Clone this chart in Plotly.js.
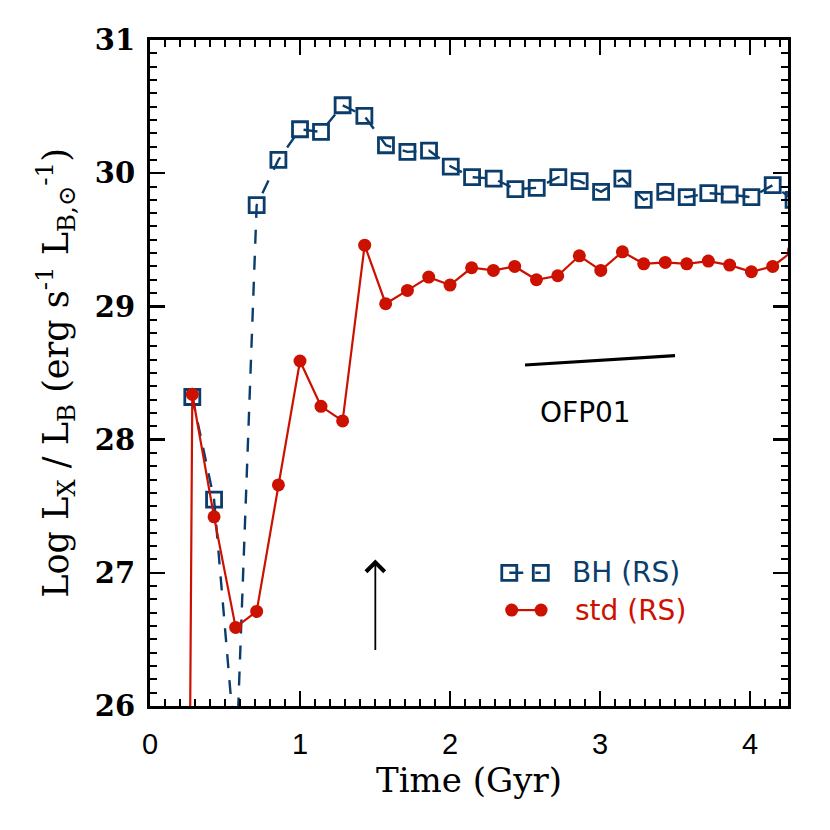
<!DOCTYPE html>
<html>
<head>
<meta charset="utf-8">
<script src="https://cdn.plot.ly/plotly-3.0.1.min.js"></script>
<style>
  html, body { margin: 0; padding: 0; background: #fff; }
  #chart { width: 830px; height: 830px; }
</style>
</head>
<body>
<div id="chart"></div>
<script>
// Values (time in Gyr, log Lx/LB)
const bhTime = [0.282, 0.427, 0.575, 0.711, 0.856, 1.0, 1.14, 1.284, 1.429, 1.573,
                1.716, 1.86, 2.005, 2.147, 2.291, 2.436, 2.578, 2.722, 2.864, 3.007,
                3.149, 3.291, 3.435, 3.578, 3.722, 3.864, 4.009, 4.151, 4.29];
const bhLog = [28.32, 27.55, 25.59, 29.76, 30.10, 30.33, 30.31, 30.51, 30.43, 30.21,
               30.16, 30.17, 30.05, 29.97, 29.96, 29.88, 29.89, 29.97, 29.94, 29.86,
               29.96, 29.80, 29.86, 29.82, 29.85, 29.84, 29.82, 29.91, 29.80];

const stdTime = [0.143, 0.282, 0.427, 0.571, 0.711, 0.856, 1.0, 1.14, 1.284, 1.431,
                 1.571, 1.716, 1.858, 2.0, 2.144, 2.289, 2.431, 2.576, 2.718, 2.862,
                 3.005, 3.149, 3.291, 3.435, 3.578, 3.722, 3.864, 4.009, 4.151, 4.29];
const stdLog = [5.0, 28.34, 27.42, 26.59, 26.71, 27.66, 28.59, 28.25, 28.14, 29.46,
                29.02, 29.12, 29.22, 29.16, 29.29, 29.27, 29.30, 29.20, 29.23, 29.38,
                29.27, 29.41, 29.32, 29.33, 29.32, 29.34, 29.31, 29.26, 29.30, 29.42];

// OFP01 reference slope
const ofpTime = [2.5, 3.5];
const ofpLog = [28.56, 28.63];

// hand-made legend glyphs
const bhKeyTime = [2.395, 2.605];
const bhKeyLog = [27.0, 27.0];
const stdKeyTime = [2.411, 2.607];
const stdKeyLog = [26.72, 26.72];

const xRange = [0, 4.253];
const yRange = [26, 31];
const xTickVals = [0, 1, 2, 3, 4];
const yTickVals = [26, 27, 28, 29, 30, 31];

const BLUE = '#0b3d6c';
const RED = '#cc1100';

const bhStyle = {
    mode: 'lines+markers',
    line: { color: BLUE, width: 2.4, dash: '14px,12px' },
    marker: { symbol: 'square-open', size: 15, color: BLUE, line: { width: 2.8, color: BLUE } }
};
const stdStyle = {
    mode: 'lines+markers',
    line: { color: RED, width: 2.2 },
    marker: { symbol: 'circle', size: 13, color: RED }
};

const traces = [
    Object.assign({ x: bhTime, y: bhLog, name: 'BH (RS)' }, bhStyle),
    Object.assign({ x: stdTime, y: stdLog, name: 'std (RS)' }, stdStyle),
    // the OFP01 segment sits on the twin axes (same ranges) so the top/right ticks get drawn
    { x: ofpTime, y: ofpLog, xaxis: 'x2', yaxis: 'y2', mode: 'lines', line: { color: '#000', width: 3.2 } },
    Object.assign({ x: bhKeyTime, y: bhKeyLog }, bhStyle),
    Object.assign({ x: stdKeyTime, y: stdKeyLog }, stdStyle)
];

const sansFont = { family: 'DejaVu Sans, sans-serif', size: 28, color: '#000' };

// shared tick look for all four sides
const tickLook = {
    ticks: 'inside', ticklen: 15, tickwidth: 2.5, tickcolor: '#000',
    minor: { dtick: 0.1, ticks: 'inside', ticklen: 7, tickwidth: 2, tickcolor: '#000' },
    showline: true, linewidth: 3, linecolor: '#000',
    showgrid: false, zeroline: false
};

const layout = {
    width: 830,
    height: 830,
    margin: { l: 150, r: 42, t: 40, b: 124 },
    paper_bgcolor: '#fff',
    plot_bgcolor: '#fff',
    showlegend: false,
    xaxis: Object.assign({}, tickLook, {
        range: xRange,
        tickvals: xTickVals,
        ticklabelstandoff: 10,
        tickfont: { family: 'Liberation Sans, sans-serif', size: 29, color: '#000' },
        title: { text: 'Time (Gyr)', font: { family: 'DejaVu Serif, serif', size: 34, color: '#000' }, standoff: 6 }
    }),
    yaxis: Object.assign({}, tickLook, {
        range: yRange,
        tickvals: yTickVals,
        ticklabelstandoff: 6,
        tickfont: { family: 'DejaVu Serif, serif', size: 29, color: '#000', weight: 'bold' },
        title: {
            text: 'Log L<sub>X</sub> / L<sub>B</sub> (erg s<sup>-1</sup> L<sub>B,⊙</sub><sup>-1</sup>)',
            font: { family: 'DejaVu Serif, serif', size: 35, color: '#000' },
            standoff: 16
        }
    }),
    // mirrored ticks on top and right
    xaxis2: Object.assign({}, tickLook, {
        range: xRange, tickvals: xTickVals, overlaying: 'x', side: 'top', anchor: 'y2',
        showticklabels: false
    }),
    yaxis2: Object.assign({}, tickLook, {
        range: yRange, tickvals: yTickVals, overlaying: 'y', side: 'right', anchor: 'x2',
        showticklabels: false
    }),
    annotations: [
        { x: 2.8, y: 27.0, xref: 'x', yref: 'y', text: 'BH (RS)', showarrow: false,
          xanchor: 'left', yanchor: 'middle', font: Object.assign({}, sansFont, { color: BLUE }) },
        { x: 2.822, y: 26.72, xref: 'x', yref: 'y', text: 'std (RS)', showarrow: false,
          xanchor: 'left', yanchor: 'middle', font: Object.assign({}, sansFont, { color: RED }) },
        { x: 2.9, y: 28.2, xref: 'x', yref: 'y', text: 'OFP01', showarrow: false,
          xanchor: 'center', yanchor: 'middle', font: sansFont },
        { x: 1.502, y: 27.10, xref: 'x', yref: 'y', ax: 1.502, ay: 26.41, axref: 'x', ayref: 'y',
          text: '', showarrow: true, arrowhead: 4, arrowsize: 2, arrowwidth: 1.8, arrowcolor: '#000' }
    ]
};

Plotly.newPlot('chart', traces, layout, { displayModeBar: false, staticPlot: true });
</script>
</body>
</html>
